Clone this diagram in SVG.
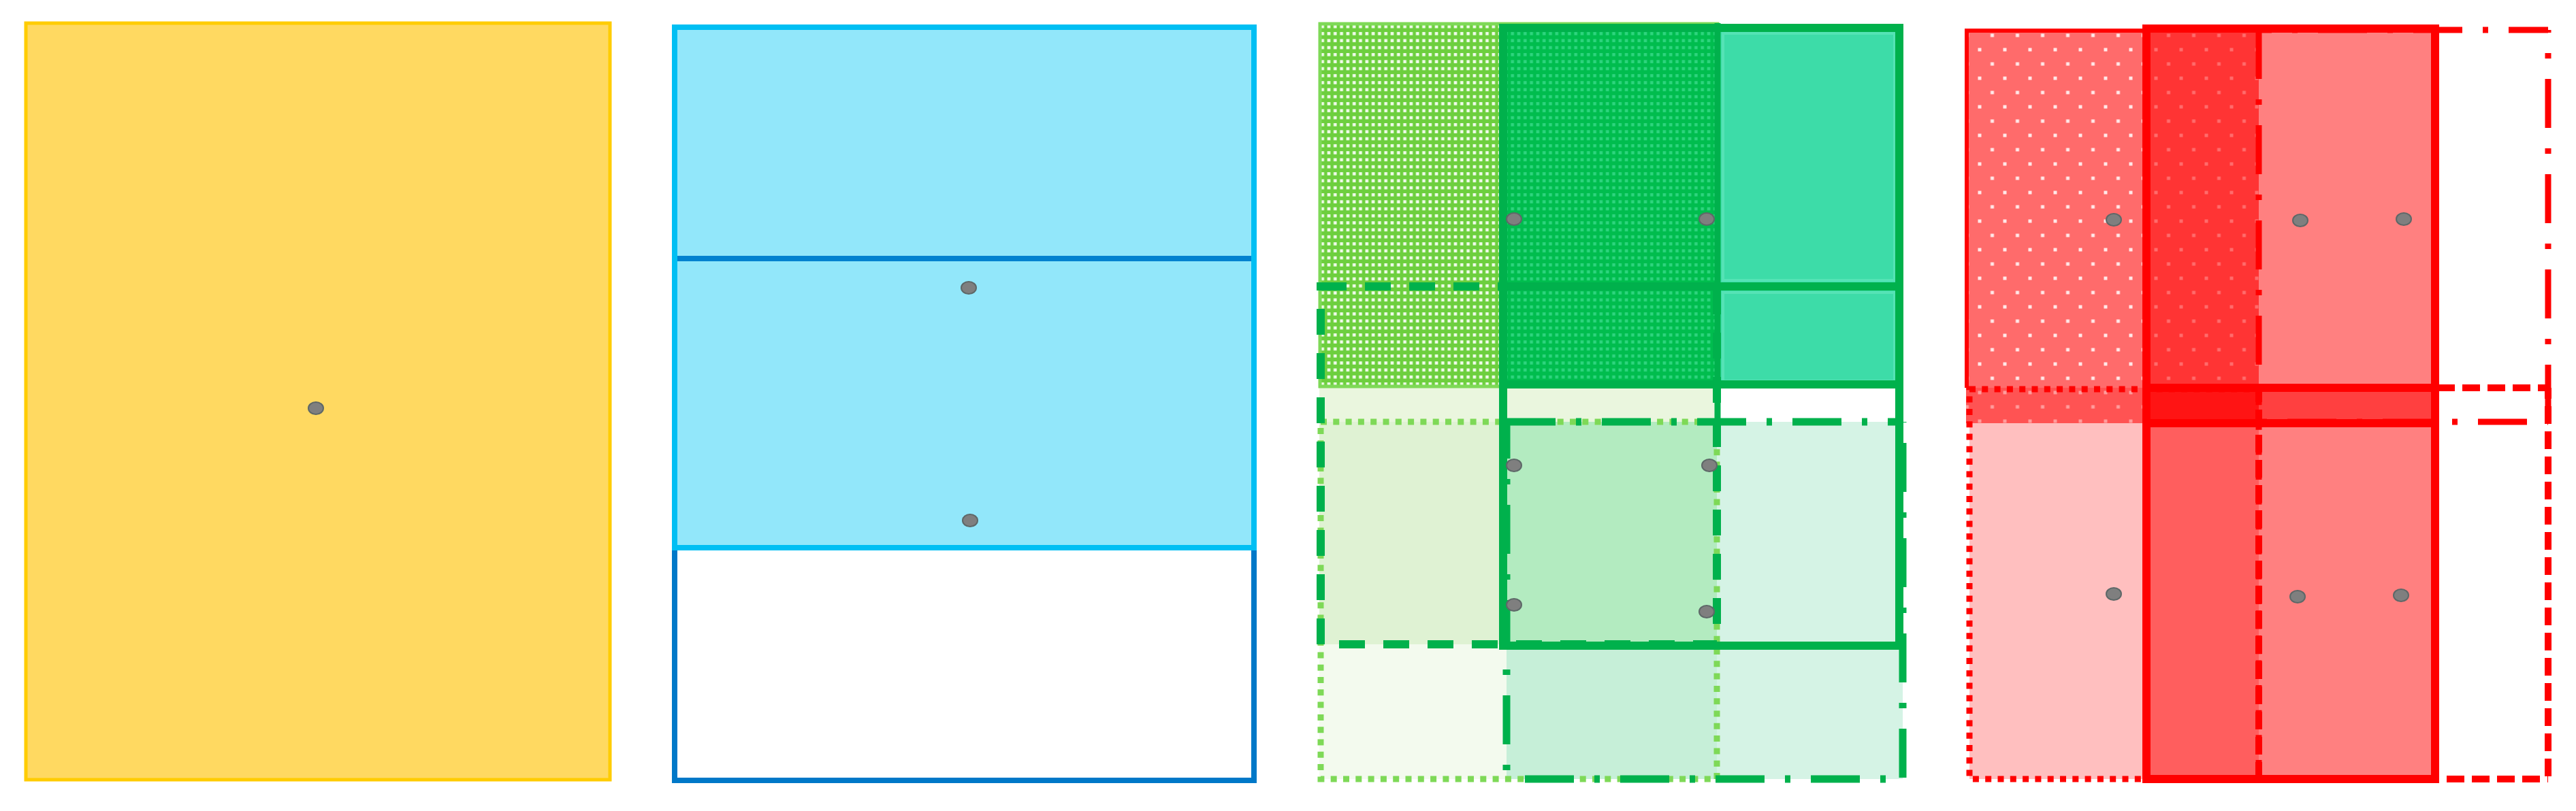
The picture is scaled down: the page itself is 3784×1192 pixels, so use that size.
<svg xmlns="http://www.w3.org/2000/svg" width="3784" height="1192" viewBox="0 0 3784 1192">
<style>
.dot{fill:#7F7F7F;stroke:#5E6868;stroke-width:2}
.g{fill:none;stroke:#00B14C}
.gl{fill:none;stroke:#7ED957}
.r{fill:none;stroke:#FF0000}
.solidG{stroke-width:12}
.dashG{stroke-width:12;stroke-dasharray:38 27}
.dotG{stroke-width:9;stroke-dasharray:9 9.3}
.ddG{stroke-width:11;stroke-dasharray:72 30 8 30}
.solidR{stroke-width:12}
.dotR{stroke-width:9;stroke-dasharray:9 9.3}
.dashR{stroke-width:10;stroke-dasharray:26 11}
.ddR{stroke-width:9;stroke-dasharray:72 30 8 30}
</style>
<defs>
<pattern id="pgLight" patternUnits="userSpaceOnUse" x="1938" y="34" width="9.3" height="10.3">
<rect width="9.3" height="10.3" fill="#6DCF3E"/><rect x="2.4" y="2.8" width="4.6" height="4.6" fill="#F0FBEA"/>
</pattern>
<pattern id="pgDark" patternUnits="userSpaceOnUse" x="1938" y="34" width="9.3" height="10.3">
<rect width="9.3" height="10.3" fill="#00BD4E"/><rect x="2.4" y="2.8" width="4.6" height="4.6" fill="#2ED47E"/>
</pattern>
<pattern id="prLight" patternUnits="userSpaceOnUse" x="2905.5" y="70.5" width="37" height="42">
<rect width="37" height="42" fill="#FF6B6B"/><rect x="0" y="0" width="5" height="5" fill="#FFE8E8"/><rect x="18.5" y="21" width="5" height="5" fill="#FFE8E8"/>
</pattern>
<pattern id="prDark" patternUnits="userSpaceOnUse" x="2905.5" y="70.5" width="37" height="42">
<rect width="37" height="42" fill="#FF3434"/><rect x="0" y="0" width="5" height="5" fill="#FF6C6C"/><rect x="18.5" y="21" width="5" height="5" fill="#FF6C6C"/>
</pattern>
<pattern id="prBand" patternUnits="userSpaceOnUse" x="2905.5" y="70.5" width="37" height="42">
<rect width="37" height="42" fill="#FF5353"/><rect x="0" y="0" width="5" height="5" fill="#FF9C9C"/><rect x="18.5" y="21" width="5" height="5" fill="#FF9C9C"/>
</pattern>
</defs>
<rect width="3784" height="1192" fill="#FFFFFF"/>

<g id="panel-yellow">
<rect x="38" y="34" width="858" height="1112" fill="#FFD961" stroke="#FFCC00" stroke-width="5"/>
<ellipse class="dot" cx="464" cy="600" rx="11" ry="9"/>
</g>

<g id="panel-blue">
<rect id="blue-lower" x="991" y="380" width="851" height="767" fill="#FFFFFF" stroke="#0078C8" stroke-width="8"/>
<rect id="blue-upper" x="991" y="40" width="851" height="765" fill="#92E7FA" stroke="#00BFF3" stroke-width="8"/>
<line x1="995" y1="380" x2="1838" y2="380" stroke="#0082CF" stroke-width="8"/>
<ellipse class="dot" cx="1423" cy="423" rx="11" ry="9"/>
<ellipse class="dot" cx="1425" cy="765" rx="11" ry="9"/>
</g>

<g id="panel-green">
<g id="green-fills">
<rect x="1938" y="34" width="270" height="535" fill="url(#pgLight)"/>
<rect x="2208" y="34" width="315" height="535" fill="url(#pgDark)"/>
<rect x="2523" y="41" width="267" height="528" fill="#3DDCA8"/>
<rect x="2531" y="49" width="252" height="363" fill="none" stroke="#55E3B5" stroke-width="4"/>
<rect x="2531" y="430" width="252" height="130" fill="none" stroke="#55E3B5" stroke-width="4"/>
<rect x="1938" y="569" width="585" height="51" fill="#EAF6DE"/>
<rect x="1938" y="620" width="275" height="327" fill="#DFF2D3"/>
<rect x="2213" y="620" width="309" height="327" fill="#B3EBC0"/>
<rect x="2522" y="620" width="273" height="525" fill="#D5F3E5"/>
<rect x="1938" y="947" width="275" height="198" fill="#F3FAEE"/>
<rect x="2213" y="947" width="309" height="198" fill="#C6EFD8"/>
</g>
<rect id="green-pattern-border" class="gl" x="1939" y="35" width="584" height="533" stroke-width="5"/>
<rect id="green-dotted" class="gl dotG" x="1940" y="620" width="582" height="525"/>
<rect id="green-dashed" class="g dashG" x="1940" y="421" width="582" height="526"/>
<g id="green-dashdot" class="g ddG">
<path d="M2213 620 H2795"/>
<path d="M2795 620 V1145" stroke-dashoffset="109"/>
<path d="M2213 1145 H2795" stroke-dashoffset="113"/>
<path d="M2213 620 V1145" stroke-dashoffset="18"/>
</g>
<rect id="green-solid-top" class="g solidG" x="2208" y="41" width="582" height="524"/>
<rect id="green-solid-mid" class="g solidG" x="2208" y="421" width="582" height="528"/>
<line class="g" x1="2523" y1="34" x2="2523" y2="620" stroke-width="9"/>
<ellipse class="dot" cx="2224" cy="322" rx="11" ry="9"/>
<ellipse class="dot" cx="2507" cy="322" rx="11" ry="9"/>
<ellipse class="dot" cx="2224" cy="684" rx="11" ry="9"/>
<ellipse class="dot" cx="2511" cy="684" rx="11" ry="9"/>
<ellipse class="dot" cx="2224" cy="889" rx="11" ry="9"/>
<ellipse class="dot" cx="2507" cy="899" rx="11" ry="9"/>
</g>

<g id="panel-red">
<g id="red-fills">
<rect x="2888" y="45" width="265" height="525" fill="url(#prLight)"/>
<rect x="3153" y="45" width="165" height="525" fill="url(#prDark)"/>
<rect x="3318" y="45" width="259" height="525" fill="#FF8080"/>
<rect x="2888" y="570" width="265" height="52" fill="url(#prBand)"/>
<rect x="3153" y="570" width="165" height="52" fill="#FF1414"/>
<rect x="3318" y="570" width="259" height="52" fill="#FF4040"/>
<rect x="2893" y="622" width="260" height="523" fill="#FFBFBF"/>
<rect x="3153" y="622" width="165" height="523" fill="#FF5E5E"/>
<rect x="3318" y="622" width="259" height="523" fill="#FF8080"/>
</g>
<path id="red-pattern-border" class="r" d="M2889 570 V45 H3318" stroke-width="6"/>
<rect id="red-dotted" class="r dotR" x="2893" y="572" width="425" height="573"/>
<g id="red-dashdot" class="r ddR">
<path d="M3318 44 H3743" stroke-dashoffset="53"/>
<path d="M3743 44 V620" stroke-dashoffset="68"/>
<path d="M3318 620 H3743" stroke-dashoffset="98"/>
<path d="M3318 44 V620"/>
</g>
<g id="red-dashed" class="r dashR">
<path d="M3318 570 H3743" stroke-dashoffset="34"/>
<path d="M3743 570 V1145" stroke-dashoffset="10"/>
<path d="M3318 1145 H3743" stroke-dashoffset="20"/>
<path d="M3318 570 V1145" stroke-dashoffset="5"/>
</g>
<rect id="red-solid-top" class="r solidR" x="3153" y="42" width="424" height="580"/>
<rect id="red-solid-bottom" class="r solidR" x="3153" y="570" width="424" height="575"/>
<ellipse class="dot" cx="3105" cy="323" rx="11" ry="9"/>
<ellipse class="dot" cx="3379" cy="324" rx="11" ry="9"/>
<ellipse class="dot" cx="3531" cy="322" rx="11" ry="9"/>
<ellipse class="dot" cx="3105" cy="873" rx="11" ry="9"/>
<ellipse class="dot" cx="3375" cy="877" rx="11" ry="9"/>
<ellipse class="dot" cx="3527" cy="875" rx="11" ry="9"/>
</g>
</svg>
